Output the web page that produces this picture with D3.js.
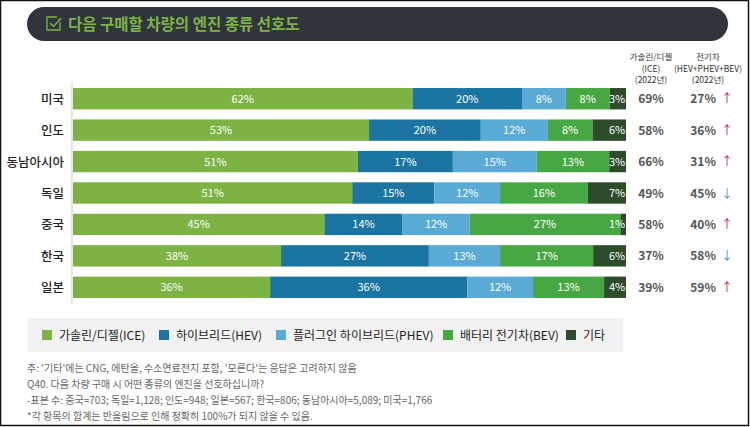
<!DOCTYPE html>
<html><head><meta charset="utf-8">
<script src="https://cdn.jsdelivr.net/npm/d3@7"></script>
<style>body{margin:0;background:#fff;}svg{display:block;font-family:"Noto Sans CJK KR","Noto Sans",sans-serif;}</style>
</head><body><svg id="c" width="750" height="427"></svg>
<script>
const countries = ["미국","인도","동남아시아","독일","중국","한국","일본"];
const series = ["가솔린/디젤(ICE)","하이브리드(HEV)","플러그인 하이브리드(PHEV)","배터리 전기차(BEV)","기타"];
const ice  = [62,53,51,51,45,38,36];
const hev  = [20,20,17,15,14,27,36];
const phev = [8,12,15,12,12,13,12];
const bev  = [8,8,13,16,27,17,13];
const etc  = [3,6,3,7,1,6,4];
const ice2022 = [69,58,66,49,58,37,39];
const ev2022  = [27,36,31,45,40,58,59];
const trend   = ["up","up","up","down","up","down","up"];
const colors = ["#7db343","#1b75a2","#5aaad6","#47a843","#2e4b2c"];
const notes = [
 "주: '기타'에는 CNG, 에탄올, 수소연료전지 포함, '모른다'는 응답은 고려하지 않음",
 "Q40. 다음 차량 구매 시 어떤 종류의 엔진을 선호하십니까?",
 "-표본 수: 중국=703; 독일=1,128; 인도=948; 일본=567; 한국=806; 동남아시아=5,089; 미국=1,766",
 "*각 항목의 합계는 반올림으로 인해 정확히 100%가 되지 않을 수 있음."
];

const svg = d3.select("#c");
svg.append("rect").attr("x",0.5).attr("y",0.5).attr("width",748).attr("height",425)
  .attr("fill","none").attr("stroke","#111").attr("stroke-width",1.5);
svg.append("rect").attr("x",27).attr("y",7).attr("width",701).attr("height",34).attr("rx",17).attr("fill","#30353d");
const ic = svg.append("g").attr("transform","translate(46,16)");
ic.append("path").attr("d","M11,1 H1 V14 H14 V6").attr("fill","none").attr("stroke","#7db343").attr("stroke-width",1.3);
ic.append("path").attr("d","M4,7 L7.5,10.5 L15,2").attr("fill","none").attr("stroke","#7db343").attr("stroke-width",1.5);
svg.append("text").attr("x",68).attr("y",30).attr("fill","#7db343").attr("font-size",15.5).attr("font-weight","bold").text("다음 구매할 차량의 엔진 종류 선호도");

const rows = countries.map((c,i)=>{
  const vals=[ice[i],hev[i],phev[i],bev[i],etc[i]];
  const tot=d3.sum(vals); let acc=0;
  return {c, segs: vals.map((v,k)=>{const s={k,v,x0:acc/tot*100,x1:(acc+v)/tot*100}; acc+=v; return s;})};
});
const x = d3.scaleLinear().domain([0,100]).range([73,626]);
const y = d3.scaleBand().domain(countries).range([83,303]).paddingInner(0.32).paddingOuter(0.16);

svg.append("line").attr("x1",72).attr("x2",72).attr("y1",82).attr("y2",304).attr("stroke","#ddd").attr("stroke-width",1.5);

const g = svg.selectAll("g.row").data(rows).join("g").attr("class","row");
g.selectAll("rect").data(d=>d.segs.map(s=>({...s,c:d.c}))).join("rect")
  .attr("x",s=>x(s.x0)).attr("width",s=>x(s.x1)-x(s.x0))
  .attr("y",s=>y(s.c)).attr("height",y.bandwidth()).attr("fill",s=>colors[s.k]);
g.selectAll("text.v").data(d=>d.segs.map(s=>({...s,c:d.c}))).join("text").attr("class","v")
  .attr("x",s=>s.k===4 ? x(s.x1)-9 : (x(s.x0)+x(s.x1))/2)
  .attr("y",s=>y(s.c)+y.bandwidth()/2+4)
  .attr("text-anchor","middle").attr("fill","#fff").attr("font-size",11).text(s=>s.v+"%");
svg.selectAll("text.cl").data(countries).join("text").attr("class","cl")
  .attr("x",64).attr("y",d=>y(d)+y.bandwidth()/2+5).attr("text-anchor","end")
  .attr("fill","#222").attr("font-size",12.5).attr("font-weight",500).text(d=>d);

const h1=["가솔린/디젤","(ICE)","(2022년)"], h2=["전기차","(HEV+PHEV+BEV)","(2022년)"];
h1.forEach((t,i)=>svg.append("text").attr("x",651).attr("y",60+i*11.5).attr("text-anchor","middle").attr("font-size",8.5).attr("fill","#333").text(t));
h2.forEach((t,i)=>svg.append("text").attr("x",708).attr("y",60+i*11.5).attr("text-anchor","middle").attr("font-size",8.5).attr("fill","#333").text(t));
countries.forEach((c,i)=>{
  const cy=y(c)+y.bandwidth()/2+4.5;
  svg.append("text").attr("x",651).attr("y",cy).attr("text-anchor","middle").attr("font-size",12).attr("font-weight","bold").attr("fill","#555").text(ice2022[i]+"%");
  svg.append("text").attr("x",716).attr("y",cy).attr("text-anchor","end").attr("font-size",12).attr("font-weight","bold").attr("fill","#555").text(ev2022[i]+"%");
  svg.append("text").attr("x",727).attr("y",cy).attr("text-anchor","middle").attr("font-size",12)
    .attr("fill",trend[i]==="up"?"#b8283a":"#4a8fd0").text(trend[i]==="up"?"↑":"↓");
});

svg.append("rect").attr("x",27).attr("y",318).attr("width",596).attr("height",34).attr("fill","#f2f2f2");
const lx=[42,159,276,443,566];
series.forEach((s,i)=>{
  svg.append("rect").attr("x",lx[i]).attr("y",330).attr("width",10).attr("height",10).attr("fill",colors[i]);
  svg.append("text").attr("x",lx[i]+17).attr("y",339.5).attr("font-size",12).attr("fill","#222").text(s);
});
notes.forEach((t,i)=>svg.append("text").attr("x",27).attr("y",372+i*16).attr("font-size",10).attr("fill","#666").text(t));
</script></body></html>
